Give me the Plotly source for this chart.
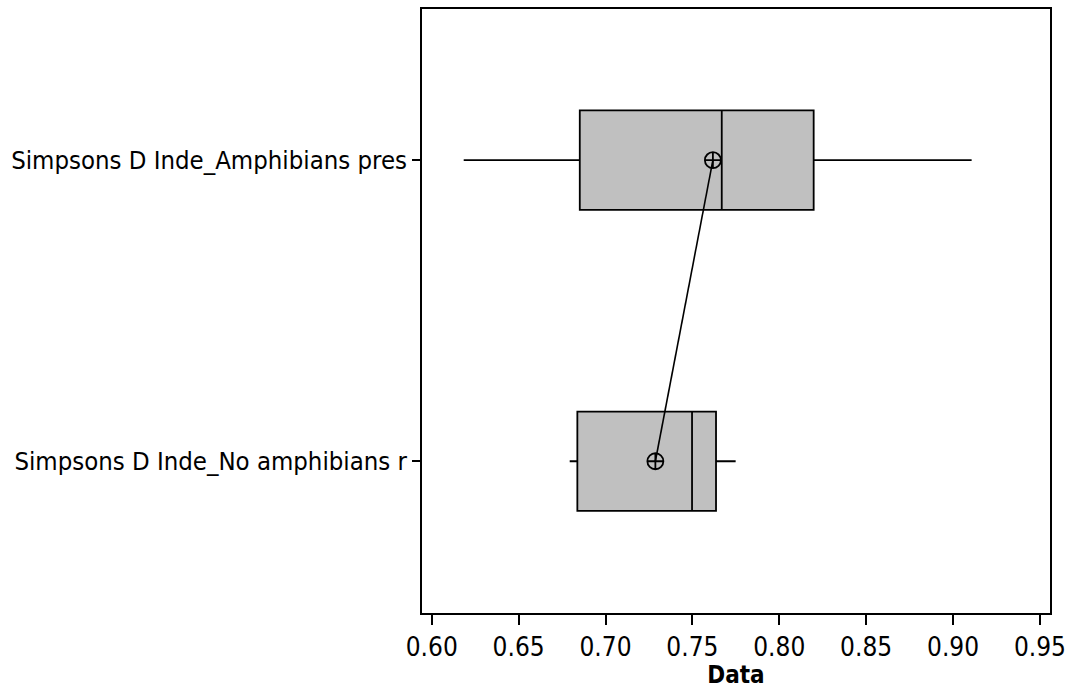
import plotly.graph_objects as go

# Group labels (bottom to top) and their summary statistics
groups = ["Simpsons D Inde_No amphibians r", "Simpsons D Inde_Amphibians pres"]
positions = [0, 1]
lower_whisker = [0.6794, 0.6184]
q1 = [0.6838, 0.6852]
median = [0.7498, 0.7669]
q3 = [0.7636, 0.8198]
upper_whisker = [0.7749, 0.9107]
means = [0.7287, 0.7618]

x_ticks = [0.60, 0.65, 0.70, 0.75, 0.80, 0.85, 0.90, 0.95]

FONT = "Tahoma, 'DejaVu Sans Condensed', 'Liberation Sans', sans-serif"

fig = go.Figure()

fig.add_trace(go.Box(
    y=positions,
    q1=q1,
    median=median,
    q3=q3,
    lowerfence=lower_whisker,
    upperfence=upper_whisker,
    orientation="h",
    width=0.33,
    whiskerwidth=0,
    fillcolor="#C0C0C0",
    line=dict(color="black", width=1.8),
    boxpoints=False,
    showlegend=False,
    hoverinfo="skip",
))

# Mean symbols joined by a connecting line
fig.add_trace(go.Scatter(
    x=means,
    y=positions,
    mode="lines+markers",
    line=dict(color="black", width=1.6),
    marker=dict(symbol="circle-cross-open", size=16, color="black",
                line=dict(width=1.8, color="black")),
    showlegend=False,
    hoverinfo="skip",
))

fig.update_layout(
    width=1074,
    height=689,
    paper_bgcolor="white",
    plot_bgcolor="white",
    margin=dict(l=422, r=24, t=9, b=76),
    font=dict(family=FONT, size=25.5, color="black"),
    xaxis=dict(
        range=[0.5944, 0.9558],
        tickvals=x_ticks,
        tickformat=".2f",
        ticks="outside",
        ticklen=10,
        tickwidth=1.6,
        tickcolor="black",
        tickfont=dict(size=26),
        showline=True,
        linecolor="black",
        linewidth=1.8,
        mirror=True,
        showgrid=False,
        zeroline=False,
        automargin=False,
        title=dict(text="<b>Data</b>", font=dict(family=FONT, size=24), standoff=10),
    ),
    yaxis=dict(
        range=[-0.504, 1.502],
        tickvals=positions,
        ticktext=groups,
        ticks="outside",
        ticklen=8,
        tickwidth=1.6,
        tickcolor="black",
        tickfont=dict(size=25.5),
        showline=True,
        linecolor="black",
        linewidth=1.8,
        mirror=True,
        showgrid=False,
        zeroline=False,
        automargin=False,
    ),
)

fig.write_html("out.html")
